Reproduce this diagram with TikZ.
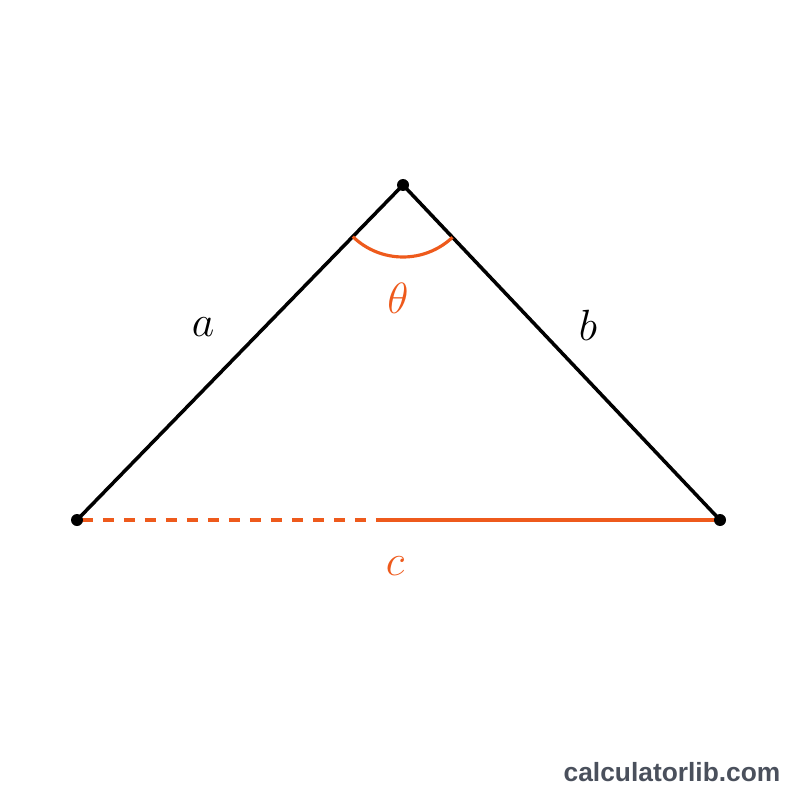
\documentclass[tikz,border=0pt]{standalone}
\usepackage{fontspec}
\newfontfamily\markfont{Liberation Sans}
\usepackage{tikz}
\usetikzlibrary{positioning,backgrounds}
\definecolor{sideorange}{HTML}{EE5A1C}
\definecolor{markgray}{HTML}{4A505C}

\begin{document}
\begin{tikzpicture}[%
    x=0.02cm, y=-0.02cm,
    vertex/.style={%
        circle,
        fill=black,
        inner sep=0pt,
        minimum size=0.24cm
    },
    side/.style={%
        line width=2pt,
        black
    },
    base/.style={%
        line width=2pt,
        sideorange
    },
    sidelabel/.style={%
        font=\fontsize{31}{35}\selectfont
    },
    orangelabel/.style={%
        font=\fontsize{31}{35}\selectfont,
        text=sideorange
    }
]
\useasboundingbox (0,0) rectangle (800,800);

% Vertices
    \node[vertex] (left) at (77,520) {};
    \node[vertex] (top) at (403,185) {};
    \node[vertex] (right) at (720,520) {};
    \coordinate (mid) at (382,520);

% Sides
\begin{scope}[on background layer]
\draw[side] (left.center) -- (top.center);
\draw[side] (top.center) -- (right.center);
\draw[base, dash pattern=on 0.22cm off 0.2cm, dash phase=-0.1cm] (left.center) -- (mid);
\draw[base] (mid) -- (right.center);
\end{scope}

% Angle
\draw[base, line width=1.8pt] (top.center) ++(134.2:72) arc (134.2:46.6:72);

% Labels
    \node[sidelabel] (labelA) at (203,327) {$a$};
    \node[sidelabel] (labelB) at (588,325) {$b$};
    \node[orangelabel] (labelTheta) at (398,298) {$\theta$};
    \node[orangelabel] (labelC) at (395,566) {$c$};

% Watermark
    \node[font=\markfont\bfseries\fontsize{15}{18}\selectfont, text=markgray] (mark) at (672,772) {calculatorlib.com};

\end{tikzpicture}
\end{document}
